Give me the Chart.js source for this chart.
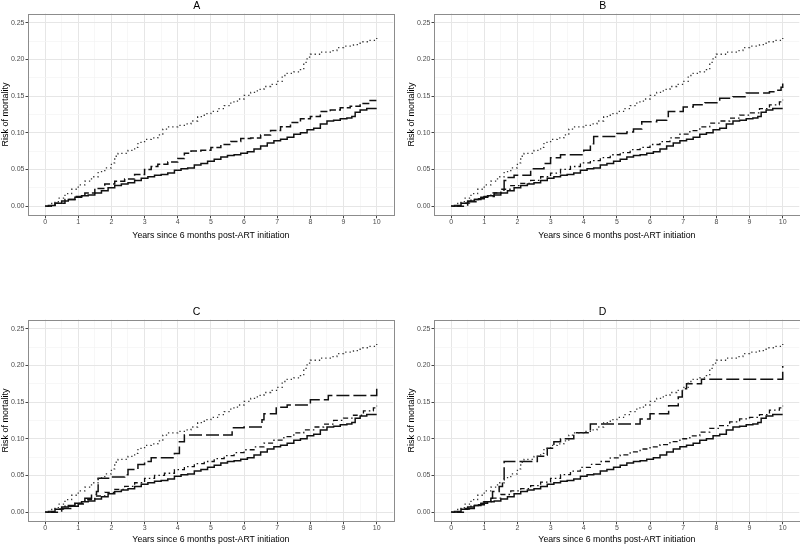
<!DOCTYPE html>
<html>
<head>
<meta charset="utf-8">
<script src="https://cdn.jsdelivr.net/npm/chart.js@4.4.1/dist/chart.umd.min.js"></script>
<style>
  html, body { margin: 0; padding: 0; background: #ffffff; }
  body { width: 800px; height: 545px; position: relative; overflow: hidden; }
  canvas { position: absolute; }
</style>
</head>
<body>
<canvas id="cA" width="400" height="241" style="left:0px;top:0px"></canvas>
<canvas id="cB" width="394" height="241" style="left:406px;top:0px"></canvas>
<canvas id="cC" width="400" height="239" style="left:0px;top:306px"></canvas>
<canvas id="cD" width="394" height="239" style="left:406px;top:306px"></canvas>
<script>
// ---------------- data ----------------
const panelTitles = ['A', 'B', 'C', 'D'];
const xTickLabels = ['0','1','2','3','4','5','6','7','8','9','10'];
const yTickLabels = ['0.00','0.05','0.10','0.15','0.20','0.25'];
const xAxisTitle = 'Years since 6 months post-ART initiation';
const yAxisTitle = 'Risk of mortality';

// solid curve (same in all panels)
const solidTimes = [0,0.1,0.3,0.5,0.7,0.9,1.1,1.3,1.5,1.7,1.9,2.1,2.3,2.5,2.7,2.9,3.1,3.3,3.5,3.7,3.9,4.1,4.3,4.5,4.7,4.9,5.1,5.3,5.5,5.7,5.9,6.1,6.3,6.5,6.7,6.9,7.1,7.3,7.5,7.7,7.9,8.1,8.3,8.5,8.7,8.9,9.1,9.25,9.35,9.5,9.7,10];
const solidRisk  = [0,0.001,0.004,0.007,0.009,0.012,0.014,0.015,0.018,0.021,0.025,0.028,0.030,0.032,0.035,0.038,0.040,0.042,0.043,0.045,0.049,0.051,0.052,0.056,0.058,0.061,0.064,0.067,0.069,0.070,0.072,0.074,0.078,0.082,0.086,0.089,0.091,0.094,0.098,0.100,0.104,0.106,0.112,0.116,0.117,0.119,0.120,0.122,0.128,0.131,0.133,0.133];

// dotted curve (same in all panels)
const dottedTimes = [0,0.2,0.4,0.6,0.8,1.0,1.2,1.4,1.6,1.8,2.0,2.1,2.2,2.5,2.7,2.8,3.0,3.2,3.4,3.55,3.7,4.0,4.2,4.4,4.6,4.8,5.0,5.2,5.4,5.6,5.8,6.0,6.2,6.4,6.6,6.8,7.0,7.15,7.3,7.5,7.7,7.8,7.9,8.0,8.3,8.6,8.8,9.0,9.3,9.5,9.8,10];
const dottedRisk  = [0,0.005,0.011,0.017,0.023,0.029,0.034,0.040,0.047,0.052,0.059,0.068,0.072,0.076,0.080,0.087,0.091,0.093,0.097,0.105,0.108,0.110,0.112,0.116,0.122,0.126,0.129,0.133,0.137,0.142,0.146,0.151,0.155,0.159,0.163,0.166,0.170,0.178,0.181,0.183,0.186,0.196,0.203,0.207,0.210,0.212,0.216,0.218,0.220,0.224,0.226,0.229];

// panel A dashed curve
const dashedATimes = [0,0.3,0.6,0.9,1.2,1.5,1.8,2.1,2.4,2.7,3.0,3.2,3.4,3.7,4.0,4.2,4.4,4.7,5.0,5.3,5.6,5.9,6.2,6.5,6.8,7.1,7.4,7.7,8.0,8.3,8.6,8.9,9.2,9.5,9.8,10];
const dashedARisk  = [0,0.004,0.009,0.013,0.018,0.024,0.030,0.034,0.037,0.043,0.050,0.054,0.057,0.060,0.065,0.072,0.075,0.076,0.080,0.084,0.088,0.092,0.093,0.097,0.103,0.108,0.114,0.119,0.122,0.129,0.131,0.134,0.136,0.140,0.144,0.147];

// dot-dash curves (B, C, D)
const dotdashBTimes = [0,0.3,0.6,0.9,1.2,1.5,1.8,2.1,2.4,2.7,3.0,3.3,3.6,3.9,4.2,4.5,4.8,5.1,5.4,5.7,6.0,6.3,6.6,6.9,7.2,7.5,7.8,8.1,8.4,8.7,9.0,9.3,9.6,9.9,10];
const dotdashBRisk  = [0,0.004,0.009,0.013,0.018,0.023,0.028,0.031,0.035,0.040,0.045,0.050,0.054,0.059,0.062,0.066,0.070,0.073,0.077,0.080,0.084,0.088,0.093,0.098,0.103,0.108,0.113,0.116,0.120,0.124,0.127,0.133,0.138,0.142,0.145];
const dotdashCTimes = [0,0.3,0.6,0.9,1.2,1.5,1.8,2.1,2.4,2.7,3.0,3.3,3.6,3.9,4.2,4.5,4.8,5.1,5.4,5.7,6.0,6.3,6.6,6.9,7.2,7.5,7.8,8.1,8.4,8.7,9.0,9.3,9.6,9.9,10];
const dotdashCRisk  = [0,0.004,0.008,0.012,0.017,0.022,0.027,0.031,0.035,0.040,0.046,0.050,0.053,0.058,0.062,0.066,0.069,0.073,0.077,0.081,0.085,0.089,0.094,0.098,0.103,0.108,0.112,0.116,0.120,0.125,0.128,0.132,0.138,0.142,0.145];
const dotdashDTimes = [0,0.3,0.6,0.9,1.2,1.5,1.8,2.1,2.4,2.7,3.0,3.3,3.6,3.9,4.2,4.5,4.8,5.1,5.4,5.7,6.0,6.3,6.6,6.9,7.2,7.5,7.8,8.1,8.4,8.7,9.0,9.3,9.6,9.9,10];
const dotdashDRisk  = [0,0.004,0.009,0.014,0.019,0.024,0.029,0.032,0.036,0.041,0.046,0.051,0.056,0.061,0.065,0.069,0.074,0.078,0.082,0.086,0.089,0.092,0.096,0.100,0.104,0.109,0.114,0.118,0.123,0.127,0.129,0.133,0.139,0.142,0.145];

// long-dash curves (B, C, D)
const longdashBTimes = [0,0.5,0.8,1.0,1.3,1.5,1.6,1.7,1.9,2.35,2.4,2.8,3.0,3.3,3.95,4.0,4.2,4.3,4.9,5.0,5.3,5.5,5.75,6.2,6.5,6.55,7.0,7.3,7.65,8.1,8.5,8.9,9.6,9.8,9.95,10];
const longdashBRisk  = [0,0.006,0.010,0.013,0.018,0.022,0.035,0.039,0.042,0.042,0.051,0.058,0.066,0.070,0.070,0.076,0.085,0.095,0.095,0.099,0.101,0.105,0.115,0.117,0.120,0.129,0.135,0.138,0.141,0.147,0.149,0.154,0.156,0.158,0.162,0.167];
const longdashCTimes = [0,0.5,0.8,1.0,1.2,1.4,1.55,1.6,2.0,2.4,2.5,2.8,3.0,3.2,3.9,4.05,4.2,5.64,6.0,6.54,6.6,6.97,7.3,8.0,8.54,10];
const longdashCRisk  = [0,0.005,0.008,0.011,0.019,0.024,0.028,0.046,0.048,0.051,0.058,0.065,0.069,0.074,0.080,0.096,0.105,0.115,0.116,0.126,0.134,0.143,0.146,0.153,0.159,0.169];
const longdashDTimes = [0,0.4,0.7,1.0,1.2,1.25,1.45,1.55,1.6,2.55,2.6,2.85,2.9,3.1,3.3,3.7,4.2,5.7,6.0,6.56,6.85,6.97,7.1,7.55,10];
const longdashDRisk  = [0,0.005,0.010,0.014,0.019,0.028,0.035,0.044,0.069,0.069,0.076,0.078,0.087,0.096,0.100,0.108,0.120,0.127,0.134,0.145,0.157,0.168,0.175,0.181,0.199];

// ---------------- styles ----------------
const FONT = "'Liberation Sans', Arial, sans-serif";
const STYLE = {
  solid:    { color: '#111111', width: 1.5, dash: [] },
  dotted:   { color: '#333333', width: 1.3, dash: [1.3, 3] },
  dashed:   { color: '#111111', width: 1.5, dash: [7, 3] },
  dotdash:  { color: '#111111', width: 1.3, dash: [1.5, 3, 5, 3] },
  longdash: { color: '#111111', width: 1.5, dash: [13, 4] }
};

function pts(times, vals) { return times.map((t, i) => ({ x: t, y: vals[i] })); }
function ds(times, vals, style) {
  const s = STYLE[style];
  return {
    data: pts(times, vals), stepped: 'before', borderColor: s.color, borderWidth: s.width,
    borderDash: s.dash, pointRadius: 0, fill: false, tension: 0
  };
}

const X_TICKS = []; for (let i = 0; i <= 20; i++) X_TICKS.push(i * 0.5);
const Y_TICKS = []; for (let i = 0; i <= 10; i++) Y_TICKS.push(+(i * 0.025).toFixed(3));

const borderPlugin = {
  id: 'panelBorder',
  afterDatasetsDraw(chart) {
    const a = chart.chartArea, c = chart.ctx;
    c.save();
    c.strokeStyle = '#8c8c8c';
    c.lineWidth = 1;
    c.strokeRect(Math.round(a.left) - 0.5, Math.round(a.top) + 0.5, Math.round(a.right - a.left) + 1, Math.round(a.bottom - a.top) - 1);
    c.restore();
  }
};

function makeChart(id, title, datasets, canvasH, titleBottomPad) {
  const cv = document.getElementById(id);
  const plotBottom = 215.3;
  new Chart(cv, {
    type: 'line',
    data: { datasets },
    options: {
      responsive: false, animation: false, devicePixelRatio: 1,
      layout: { padding: { left: 0, right: cv.width - 393.3, top: 0, bottom: 0 } },
      plugins: {
        legend: { display: false }, tooltip: { enabled: false },
        title: { display: true, text: title, color: '#000', font: { family: FONT, size: 10.5, weight: 'normal' }, padding: { top: 0, bottom: 0.9 } }
      },
      scales: {
        x: {
          type: 'linear', min: -0.5, max: 10.5,
          afterBuildTicks(s) { s.ticks = X_TICKS.map(v => ({ value: v })); },
          afterFit(s) { s.height = canvasH - plotBottom; },
          ticks: {
            autoSkip: false, maxRotation: 0, padding: 0, color: '#4d4d4d',
            font: { family: FONT, size: 7 },
            callback: (v, i) => (i % 2 === 0 ? xTickLabels[i / 2] : '')
          },
          grid: {
            color: c => (c.index % 2 === 0 ? '#e6e6e6' : '#f3f3f3'),
            lineWidth: c => (c.index % 2 === 0 ? 1 : 0.7),
            tickColor: c => (c.index % 2 === 0 ? '#444' : 'rgba(0,0,0,0)'),
            tickLength: 3, drawTicks: true
          },
          border: { display: false },
          title: { display: true, text: xAxisTitle, color: '#000', font: { family: FONT, size: 8.75 }, padding: { top: 0, bottom: titleBottomPad } }
        },
        y: {
          type: 'linear', min: -0.0125, max: 0.2625,
          afterBuildTicks(s) { s.ticks = Y_TICKS.map(v => ({ value: v })); },
          afterFit(s) { s.width = 28.5; },
          ticks: {
            autoSkip: false, padding: 1, color: '#4d4d4d',
            font: { family: FONT, size: 7 },
            callback: (v, i) => (i % 2 === 0 ? yTickLabels[i / 2] : '')
          },
          grid: {
            color: c => (c.index % 2 === 0 ? '#e6e6e6' : '#f3f3f3'),
            lineWidth: c => (c.index % 2 === 0 ? 1 : 0.7),
            tickColor: c => (c.index % 2 === 0 ? '#444' : 'rgba(0,0,0,0)'),
            tickLength: 3, drawTicks: true
          },
          border: { display: false },
          title: { display: true, text: yAxisTitle, color: '#000', font: { family: FONT, size: 9 }, padding: { top: 0.5, bottom: 0 } }
        }
      }
    },
    plugins: [borderPlugin]
  });
}

makeChart('cA', panelTitles[0], [
  ds(dottedTimes, dottedRisk, 'dotted'),
  ds(dashedATimes, dashedARisk, 'dashed'),
  ds(solidTimes, solidRisk, 'solid')
], 241, 0);
makeChart('cB', panelTitles[1], [
  ds(dottedTimes, dottedRisk, 'dotted'),
  ds(longdashBTimes, longdashBRisk, 'longdash'),
  ds(dotdashBTimes, dotdashBRisk, 'dotdash'),
  ds(solidTimes, solidRisk, 'solid')
], 241, 0);
makeChart('cC', panelTitles[2], [
  ds(dottedTimes, dottedRisk, 'dotted'),
  ds(longdashCTimes, longdashCRisk, 'longdash'),
  ds(dotdashCTimes, dotdashCRisk, 'dotdash'),
  ds(solidTimes, solidRisk, 'solid')
], 239, 0);
makeChart('cD', panelTitles[3], [
  ds(dottedTimes, dottedRisk, 'dotted'),
  ds(longdashDTimes, longdashDRisk, 'longdash'),
  ds(dotdashDTimes, dotdashDRisk, 'dotdash'),
  ds(solidTimes, solidRisk, 'solid')
], 239, 0);
</script>
</body>
</html>
